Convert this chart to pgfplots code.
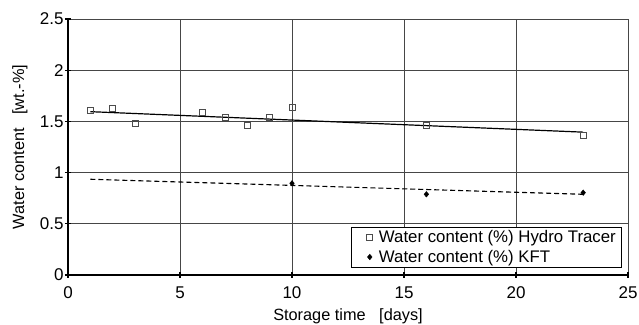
\documentclass[border=0pt]{standalone}
\usepackage{fontspec}
\setmainfont{Liberation Sans}
\usepackage{pgfplots}
\pgfplotsset{compat=1.18}
\usetikzlibrary{calc}
\begin{document}
\begin{tikzpicture}
\begin{axis}[
  scale only axis, width=560pt, height=256pt,
  xmin=0, xmax=25, ymin=0, ymax=2.5,
  xtick={0,5,10,15,20,25}, ytick={0,0.5,1,1.5,2,2.5},
  yticklabels={0,0.5,1,1.5,2,2.5},
  axis x line*=bottom, axis y line*=left,
  axis line style={black, line width=1.4pt, -},
  grid=major, major grid style={gray!55!black, line width=0.8pt},
  tick align=center, major tick length=6pt, tick style={black, line width=1.2pt},
  ticklabel style={font=\fontsize{17}{20}\selectfont},
  xticklabel style={yshift=-5pt},
  yticklabel style={xshift=2pt},
  /pgf/number format/assume math mode=true,
  xlabel={Storage time \ \ [days]}, ylabel={Water content \ \ [wt.-\%]},
  label style={font=\fontsize{16.3}{19}\selectfont},
  xlabel style={at={(axis description cs:0.5,-0.160)}, anchor=center},
  ylabel style={at={(axis description cs:-0.0857,0.5)}, anchor=center},
  legend style={at={(0.9875,0.031)}, anchor=south east, draw=black, fill=white,
    font=\fontsize{16.8}{19}\selectfont, row sep=2pt, inner xsep=3pt, inner ysep=1pt,
    legend cell align=left},
  legend image code/.code={\path (0pt,0pt) (22pt,0pt); \draw[#1] plot coordinates {(15pt,0pt)};},
]
\addplot[only marks, mark=square, mark size=3pt, mark options={draw=black!70, fill=white, line width=0.6pt}]
  coordinates {(1,1.605) (2,1.624) (3,1.48) (6,1.585) (7,1.54) (8,1.465) (9,1.54) (10,1.64) (16,1.458) (23,1.364)};
\addlegendentry{Water content (\%) Hydro Tracer}
\addplot[only marks, mark=diamond*, mark size=2.8pt, mark options={fill=black, draw=black, xscale=1.1}]
  coordinates {(10,0.895) (16,0.788) (23,0.804)};
\addlegendentry{Water content (\%) KFT}
\addplot[black, line width=1.2pt, forget plot] coordinates {(1,1.595) (23,1.395)};
\addplot[black, line width=1.1pt, dashed, dash pattern=on 5pt off 3pt, forget plot] coordinates {(1,0.935) (23,0.788)};
\end{axis}
\pgfresetboundingbox
\path ($(current axis.south west)+(-68pt,-50pt)$) rectangle ($(current axis.north east)+(11pt,19pt)$);
\end{tikzpicture}
\end{document}
